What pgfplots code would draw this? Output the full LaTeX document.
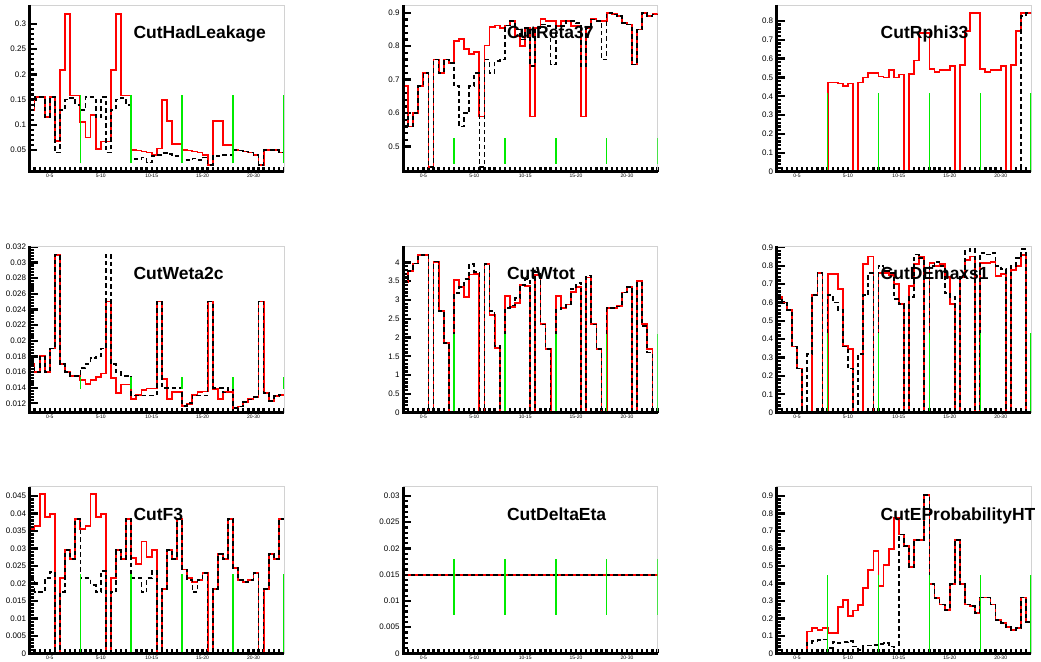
\documentclass[border=0pt]{standalone}
\usepackage{pgfplots}
\pgfplotsset{compat=1.18}
\usepackage{pgfplotstable}
\usepackage{fontspec}
\setmainfont{Liberation Sans}
\definecolor{rred}{RGB}{255,0,0}
\definecolor{rgreen}{RGB}{0,235,0}
\tikzset{ttl/.style={anchor=base west, inner sep=0pt, font=\fontsize{17.5}{19}\selectfont\bfseries}}
\pgfplotsset{
  rootaxis/.style={
    scale only axis, width=254.5pt, height=166.7pt, anchor=north west,
    xmin=0, xmax=50,
    axis line style={draw=gray!35, line width=0.7pt},
    tick pos=left,
    tick align=inside,
    xtick={4,14,24,34,44},
    xticklabels={0-5,5-10,10-15,15-20,20-30},
    major x tick style={draw=none},
    minor xtick={0,1,...,50},
    minor x tick style={line width=2.3pt, black},
    minor y tick num=4,
    major y tick style={line width=2.3pt, black},
    minor y tick style={line width=2.3pt, black},
    major tick length=8pt,
    minor tick length=4.5pt,
    x tick label style={font=\fontsize{5}{5.5}\selectfont, inner sep=0.5pt, yshift=-2pt},
    y tick label style={font=\fontsize{8}{9}\selectfont, /pgf/number format/fixed, /pgf/number format/precision=3},
    /pgf/number format/assume math mode=true,
    scaled y ticks=false,
    clip mode=individual,
    after end axis/.code={
      \draw[black, line width=3pt] (rel axis cs:0,1) -- (rel axis cs:0,0) -- (rel axis cs:1,0);
    },
  },
  hred/.style={rred, const plot mark left, line width=1.8pt},
  hblk/.style={black, const plot mark left, line width=1.7pt, dash pattern=on 4.5pt off 3pt},
  cutline/.style={rgreen, line width=1.6pt, unbounded coords=jump},
}

\pgfplotstableread{
x r b
0 0.13 0.13
1 0.155 0.155
2 0.155 0.155
3 0.115 0.115
4 0.155 0.155
5 0.068 0.045
6 0.208 0.13
7 0.32 0.15
8 0.158 0.153
9 0.158 0.14
10 0.105 0.13
11 0.075 0.155
12 0.12 0.155
13 0.052 0.115
14 0.067 0.155
15 0.067 0.045
16 0.208 0.13
17 0.32 0.15
18 0.158 0.153
19 0.158 0.14
20 0.05 0.032
21 0.049 0.032
22 0.047 0.035
23 0.045 0.025
24 0.04 0.038
25 0.053 0.04
26 0.15 0.044
27 0.107 0.042
28 0.062 0.038
29 0.062 0.038
30 0.05 0.03
31 0.049 0.03
32 0.047 0.033
33 0.045 0.03
34 0.04 0.035
35 0.021 0.02
36 0.108 0.038
37 0.108 0.038
38 0.06 0.04
39 0.06 0.04
40 0.05 0.05
41 0.049 0.049
42 0.047 0.047
43 0.045 0.045
44 0.04 0.04
45 0.02 0.02
46 0.05 0.05
47 0.05 0.05
48 0.05 0.05
49 0.045 0.045
50 0.045 0.045
}\tHL

\pgfplotstableread{
x r b
0 0.68 0.6
1 0.56 0.56
2 0.6 0.6
3 0.68 0.68
4 0.72 0.72
5 0.44 0.44
6 0.76 0.76
7 0.72 0.72
8 0.76 0.76
9 0.75 0.75
10 0.815 0.68
11 0.822 0.56
12 0.792 0.6
13 0.777 0.68
14 0.782 0.72
15 0.59 0.44
16 0.802 0.76
17 0.857 0.72
18 0.862 0.755
19 0.855 0.76
20 0.862 0.862
21 0.875 0.875
22 0.83 0.85
23 0.80 0.82
24 0.855 0.855
25 0.59 0.74
26 0.855 0.855
27 0.88 0.865
28 0.875 0.86
29 0.875 0.745
30 0.86 0.86
31 0.875 0.86
32 0.875 0.875
33 0.86 0.875
34 0.86 0.87
35 0.59 0.74
36 0.855 0.855
37 0.88 0.88
38 0.875 0.875
39 0.875 0.76
40 0.9 0.9
41 0.895 0.895
42 0.89 0.89
43 0.87 0.87
44 0.865 0.865
45 0.745 0.745
46 0.85 0.85
47 0.9 0.9
48 0.89 0.89
49 0.895 0.895
50 0.895 0.895
}\tRE

\pgfplotstableread{
x r b
0 0 0
1 0 0
2 0 0
3 0 0
4 0 0
5 0 0
6 0 0
7 0 0
8 0 0
9 0 0
10 0.473 0
11 0.473 0
12 0.468 0
13 0.455 0
14 0.468 0
15 0 0
16 0.473 0
17 0.5 0
18 0.525 0
19 0.525 0
20 0.505 0
21 0.5 0
22 0.54 0
23 0.5 0
24 0.515 0
25 0 0
26 0.52 0
27 0.59 0
28 0.735 0
29 0.735 0
30 0.545 0
31 0.53 0
32 0.54 0
33 0.54 0
34 0.56 0
35 0 0
36 0.565 0
37 0.745 0
38 0.84 0
39 0.84 0
40 0.545 0
41 0.53 0
42 0.54 0
43 0.54 0
44 0.56 0
45 0 0
46 0.565 0
47 0.745 0
48 0.84 0.825
49 0.84 0.84
50 0.84 0.84
}\tRP

\pgfplotstableread{
x r b
0 0.017 0.017
1 0.016 0.016
2 0.018 0.018
3 0.016 0.016
4 0.019 0.019
5 0.031 0.031
6 0.017 0.017
7 0.016 0.016
8 0.0155 0.0155
9 0.0155 0.0155
10 0.015 0.0165
11 0.0145 0.017
12 0.015 0.0178
13 0.0154 0.018
14 0.0158 0.019
15 0.025 0.031
16 0.0152 0.017
17 0.0133 0.016
18 0.0144 0.0155
19 0.0144 0.0155
20 0.0125 0.013
21 0.0131 0.013
22 0.0137 0.013
23 0.0139 0.013
24 0.0139 0.013
25 0.025 0.025
26 0.0151 0.014
27 0.0126 0.014
28 0.0134 0.014
29 0.0134 0.014
30 0.0117 0.0117
31 0.0119 0.012
32 0.0131 0.013
33 0.0134 0.013
34 0.0135 0.013
35 0.025 0.025
36 0.0138 0.014
37 0.0125 0.014
38 0.0134 0.0134
39 0.0134 0.014
40 0.0114 0.0114
41 0.0116 0.0116
42 0.0122 0.0122
43 0.0125 0.0125
44 0.0128 0.0128
45 0.025 0.025
46 0.0133 0.0133
47 0.0123 0.0123
48 0.0129 0.0129
49 0.0131 0.0131
50 0.0131 0.0131
}\tWE

\pgfplotstableread{
x r b
0 3.47 3.47
1 3.78 3.78
2 3.97 3.97
3 4.2 4.2
4 4.2 4.2
5 0 0
6 4.02 4.02
7 2.7 2.7
8 1.85 1.85
9 0 0
10 3.53 3.18
11 3.35 3.35
12 3.08 3.55
13 3.68 3.95
14 3.7 3.75
15 0 0
16 3.95 3.95
17 2.6 2.7
18 1.73 1.78
19 0 0
20 3.1 2.78
21 2.82 2.85
22 2.92 3.05
23 3.4 3.4
24 3.37 3.55
25 0 0
26 3.67 3.75
27 2.35 2.35
28 1.7 1.7
29 0 0
30 3.1 2.75
31 2.78 2.8
32 2.88 2.88
33 3.22 3.3
34 3.35 3.45
35 0 0
36 3.6 3.65
37 2.35 2.35
38 1.7 1.7
39 0 0
40 2.78 2.78
41 2.78 2.78
42 2.85 2.83
43 3.2 3.2
44 3.35 3.35
45 0 0
46 3.5 3.45
47 2.35 2.3
48 1.7 1.6
49 0 0
50 0 0
}\tWT

\pgfplotstableread{
x r b
0 0.63 0.63
1 0.6 0.6
2 0.56 0.56
3 0.36 0.36
4 0.24 0.24
5 0 0
6 0 0.32
7 0.64 0.64
8 0.76 0.76
9 0 0
10 0.755 0.64
11 0.755 0.6
12 0.675 0.56
13 0.365 0.36
14 0.345 0.24
15 0 0
16 0 0.32
17 0.81 0.64
18 0.85 0.76
19 0 0
20 0.76 0.8
21 0.76 0.77
22 0.75 0.76
23 0.7 0.62
24 0.59 0.59
25 0 0
26 0.69 0.63
27 0.81 0.86
28 0.85 0.84
29 0 0
30 0.815 0.8
31 0.8 0.82
32 0.81 0.8
33 0.74 0.65
34 0.59 0.63
35 0 0
36 0.74 0.74
37 0.83 0.88
38 0.85 0.89
39 0 0
40 0.815 0.87
41 0.815 0.86
42 0.82 0.87
43 0.745 0.8
44 0.755 0.78
45 0 0
46 0.775 0.8
47 0.8 0.84
48 0.86 0.89
49 0 0
50 0 0
}\tDE

\pgfplotstableread{
x r b
0 0.0355 0.0215
1 0.0365 0.0175
2 0.0455 0.0175
3 0.039 0.0215
4 0.0398 0.0233
5 0 0
6 0.0215 0.0175
7 0.0295 0.0295
8 0.027 0.027
9 0.0385 0.0385
10 0.0355 0.0215
11 0.0365 0.0215
12 0.0455 0.0195
13 0.039 0.0175
14 0.0398 0.0235
15 0 0
16 0.0215 0.0175
17 0.0295 0.0295
18 0.027 0.027
19 0.0385 0.0385
20 0.0272 0.0215
21 0.0255 0.0215
22 0.032 0.0175
23 0.0275 0.0215
24 0.0295 0.0235
25 0 0
26 0.0185 0.0185
27 0.0295 0.0295
28 0.027 0.027
29 0.0385 0.0385
30 0.024 0.024
31 0.0215 0.021
32 0.0205 0.0175
33 0.021 0.021
34 0.023 0.023
35 0 0
36 0.0185 0.0185
37 0.0285 0.0285
38 0.027 0.027
39 0.0385 0.0385
40 0.0245 0.0245
41 0.021 0.021
42 0.0205 0.0205
43 0.021 0.021
44 0.023 0.023
45 0 0
46 0.0185 0.0185
47 0.0285 0.0285
48 0.027 0.027
49 0.0385 0.0385
50 0.0385 0.0385
}\tFT

\pgfplotstableread{
x r b
0 0 0
1 0 0
2 0 0
3 0 0
4 0 0
5 0 0
6 0.125 0.06
7 0.145 0.07
8 0.135 0.075
9 0.145 0.08
10 0.115 0.03
11 0.115 0.065
12 0.265 0.06
13 0.305 0.065
14 0.215 0.07
15 0.245 0.04
16 0.275 0.02
17 0.375 0.045
18 0.475 0.045
19 0.585 0.05
20 0.385 0.055
21 0.505 0.06
22 0.595 0.04
23 0.775 0.0
24 0.68 0.68
25 0.615 0.615
26 0.495 0.495
27 0.65 0.65
28 0.65 0.65
29 0.905 0.905
30 0.395 0.395
31 0.315 0.315
32 0.28 0.28
33 0.25 0.25
34 0.395 0.395
35 0.65 0.65
36 0.395 0.395
37 0.28 0.28
38 0.27 0.27
39 0.23 0.23
40 0.32 0.32
41 0.32 0.32
42 0.28 0.28
43 0.19 0.19
44 0.175 0.175
45 0.15 0.15
46 0.135 0.135
47 0.145 0.145
48 0.32 0.32
49 0.18 0.18
50 0.18 0.18
}\tEP

\begin{document}
\begin{tikzpicture}
\path[use as bounding box] (0,0) rectangle (1041pt,-661pt);

% Row 1
\begin{axis}[rootaxis, at={(29.5pt,-5pt)}, ymin=0.007, ymax=0.3377,
  ytick={0.05,0.1,0.15,0.2,0.25,0.3}]
\addplot[hred] table[x=x,y=r]{\tHL};
\addplot[hblk] table[x=x,y=b]{\tHL};
\addplot[cutline] coordinates {(10,0.0235) (10,0.159) (10,nan) (20,0.0235) (20,0.159) (20,nan) (30,0.0235) (30,0.159) (30,nan) (40,0.0235) (40,0.159) (40,nan) (50,0.0235) (50,0.159)};
\node[ttl] at (rel axis cs:0.408,0.797) {CutHadLeakage};
\end{axis}

\begin{axis}[rootaxis, at={(403pt,-5pt)}, ymin=0.425, ymax=0.923,
  ytick={0.5,0.6,0.7,0.8,0.9}]
\addplot[hred] table[x=x,y=r]{\tRE};
\addplot[hblk] table[x=x,y=b]{\tRE};
\addplot[cutline] coordinates {(10,0.449) (10,0.527) (10,nan) (20,0.449) (20,0.527) (20,nan) (30,0.449) (30,0.527) (30,nan) (40,0.449) (40,0.527) (40,nan) (50,0.449) (50,0.527)};
\node[ttl] at (rel axis cs:0.408,0.797) {CutReta37};
\end{axis}

\begin{axis}[rootaxis, at={(776.7pt,-5pt)}, ymin=0, ymax=0.884,
  ytick={0,0.1,0.2,0.3,0.4,0.5,0.6,0.7,0.8}]
\addplot[hred] table[x=x,y=r]{\tRP};
\addplot[hblk] table[x=x,y=b]{\tRP};
\addplot[cutline] coordinates {(10,0) (10,0.415) (10,nan) (20,0) (20,0.415) (20,nan) (30,0) (30,0.415) (30,nan) (40,0) (40,0.415) (40,nan) (50,0) (50,0.415)};
\node[ttl] at (rel axis cs:0.408,0.797) {CutRphi33};
\end{axis}

% Row 2
\begin{axis}[rootaxis, at={(29.5pt,-246pt)}, ymin=0.0108, ymax=0.0321,
  ytick={0.012,0.014,0.016,0.018,0.02,0.022,0.024,0.026,0.028,0.03,0.032}]
\addplot[hred] table[x=x,y=r]{\tWE};
\addplot[hblk] table[x=x,y=b]{\tWE};
\addplot[cutline] coordinates {(10,0.0138) (10,0.0154) (10,nan) (20,0.0138) (20,0.0154) (20,nan) (30,0.0138) (30,0.0154) (30,nan) (40,0.0138) (40,0.0154) (40,nan) (50,0.0138) (50,0.0154)};
\node[ttl] at (rel axis cs:0.408,0.797) {CutWeta2c};
\end{axis}

\begin{axis}[rootaxis, at={(403pt,-246pt)}, ymin=0, ymax=4.436,
  ytick={0,0.5,1,1.5,2,2.5,3,3.5,4}]
\addplot[hred] table[x=x,y=r]{\tWT};
\addplot[hblk] table[x=x,y=b]{\tWT};
\addplot[cutline] coordinates {(10,0) (10,2.1) (10,nan) (20,0) (20,2.1) (20,nan) (30,0) (30,2.1) (30,nan) (40,0) (40,2.1) (40,nan) (50,0) (50,2.1)};
\node[ttl] at (rel axis cs:0.408,0.797) {CutWtot};
\end{axis}

\begin{axis}[rootaxis, at={(776.7pt,-246pt)}, ymin=0, ymax=0.907,
  ytick={0,0.1,0.2,0.3,0.4,0.5,0.6,0.7,0.8,0.9}]
\addplot[hred] table[x=x,y=r]{\tDE};
\addplot[hblk] table[x=x,y=b]{\tDE};
\addplot[cutline] coordinates {(10,0) (10,0.434) (10,nan) (20,0) (20,0.434) (20,nan) (30,0) (30,0.434) (30,nan) (40,0) (40,0.434) (40,nan) (50,0) (50,0.434)};
\node[ttl] at (rel axis cs:0.408,0.797) {CutDEmaxs1};
\end{axis}

% Row 3
\begin{axis}[rootaxis, at={(29.5pt,-486.7pt)}, ymin=0, ymax=0.04765,
  ytick={0,0.005,0.01,0.015,0.02,0.025,0.03,0.035,0.04,0.045}]
\addplot[hred] table[x=x,y=r]{\tFT};
\addplot[hblk] table[x=x,y=b]{\tFT};
\addplot[cutline] coordinates {(10,0) (10,0.0226) (10,nan) (20,0) (20,0.0226) (20,nan) (30,0) (30,0.0226) (30,nan) (40,0) (40,0.0226) (40,nan) (50,0) (50,0.0226)};
\node[ttl] at (rel axis cs:0.408,0.797) {CutF3};
\end{axis}

\begin{axis}[rootaxis, at={(403pt,-486.7pt)}, ymin=0, ymax=0.03177,
  ytick={0,0.005,0.01,0.015,0.02,0.025,0.03}]
\addplot[rred, line width=1.8pt] coordinates {(0,0.015) (50,0.015)};
\addplot[black, line width=1.7pt, dash pattern=on 4.5pt off 3pt] coordinates {(0,0.015) (50,0.015)};
\addplot[cutline] coordinates {(10,0.0074) (10,0.018) (10,nan) (20,0.0074) (20,0.018) (20,nan) (30,0.0074) (30,0.018) (30,nan) (40,0.0074) (40,0.018) (40,nan) (50,0.0074) (50,0.018)};
\node[ttl] at (rel axis cs:0.408,0.797) {CutDeltaEta};
\end{axis}

\begin{axis}[rootaxis, at={(776.7pt,-486.7pt)}, ymin=0, ymax=0.953,
  ytick={0,0.1,0.2,0.3,0.4,0.5,0.6,0.7,0.8,0.9}]
\addplot[hred] table[x=x,y=r]{\tEP};
\addplot[hblk] table[x=x,y=b]{\tEP};
\addplot[cutline] coordinates {(10,0) (10,0.45) (10,nan) (20,0) (20,0.45) (20,nan) (30,0) (30,0.45) (30,nan) (40,0) (40,0.45) (40,nan) (50,0) (50,0.45)};
\node[ttl] at (rel axis cs:0.408,0.797) {CutEProbabilityHT};
\end{axis}
\end{tikzpicture}
\end{document}
